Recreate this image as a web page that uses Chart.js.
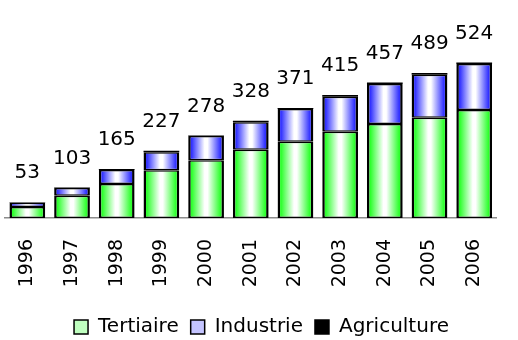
<!DOCTYPE html>
<html>
<head>
<meta charset="utf-8">
<script src="https://cdn.jsdelivr.net/npm/chart.js@4.4.1/dist/chart.umd.min.js"></script>
<style>
  html, body { margin: 0; padding: 0; background: #fff; overflow: hidden; }
  .graphic { position: relative; width: 518px; height: 347px; }
</style>
</head>
<body>
<div class="graphic"><canvas id="emplois"></canvas></div>
<script>
// années et répartition par secteur
const annees = ['1996', '1997', '1998', '1999', '2000', '2001', '2002', '2003', '2004', '2005', '2006'];
const tertiaire = [37, 75, 115, 161, 195, 230, 257, 291, 317, 338, 364];
const industrie = [14, 26, 47, 61, 81, 93, 110, 118, 135, 145, 155];
const agriculture = [2, 2, 3, 5, 2, 5, 4, 6, 5, 6, 5];

// dégradé horizontal : couleur sur les bords, blanc au centre
function barGradient(color) {
  return function (context) {
    const chart = context.chart;
    const area = chart.chartArea;
    if (!area || context.dataIndex === undefined) return color;
    const xScale = chart.scales.x;
    const x = xScale.getPixelForValue(context.dataIndex);
    const half = (area.width / annees.length) * 0.8 / 2;
    const g = chart.ctx.createLinearGradient(x - half, 0, x + half, 0);
    g.addColorStop(0, color);
    g.addColorStop(0.1, color);
    g.addColorStop(0.46, '#ffffff');
    g.addColorStop(0.54, '#ffffff');
    g.addColorStop(0.9, color);
    g.addColorStop(1, color);
    return g;
  };
}

// total au-dessus de chaque colonne
const totalLabels = {
  id: 'totalLabels',
  afterDatasetsDraw(chart) {
    const ctx = chart.ctx;
    const lastMeta = chart.getDatasetMeta(chart.data.datasets.length - 1);
    ctx.save();
    ctx.font = '20px "DejaVu Sans"';
    ctx.fillStyle = '#000';
    ctx.textAlign = 'center';
    ctx.textBaseline = 'middle';
    annees.forEach((a, i) => {
      let total = 0;
      chart.data.datasets.forEach(ds => { total += ds.data[i]; });
      const bar = lastMeta.data[i];
      ctx.fillText(total, bar.x, bar.y - 29);
    });
    ctx.restore();
  }
};

Chart.defaults.font.family = '"DejaVu Sans"';
Chart.defaults.color = '#000';

const legendColors = ['#bfffbf', '#c4c4ff', '#000000'];
const border = { top: 1.5, bottom: 1.5, left: 2.5, right: 2.5 };

new Chart(document.getElementById('emplois'), {
  type: 'bar',
  data: {
    labels: annees,
    datasets: [
      { label: 'Tertiaire', data: tertiaire, backgroundColor: barGradient('#2eff2e'),
        borderColor: '#000', borderWidth: border, borderSkipped: false },
      { label: 'Industrie', data: industrie, backgroundColor: barGradient('#3232ff'),
        borderColor: '#000', borderWidth: border, borderSkipped: false },
      { label: 'Agriculture', data: agriculture, backgroundColor: '#000',
        borderColor: '#000', borderWidth: 0, borderSkipped: false }
    ]
  },
  options: {
    responsive: true,
    maintainAspectRatio: false,
    animation: false,
    layout: { padding: { top: 40, left: 5, right: 0, bottom: 0 } },
    datasets: { bar: { barPercentage: 0.8, categoryPercentage: 1 } },
    scales: {
      x: {
        stacked: true,
        grid: { display: false, drawTicks: false },
        border: { display: true, color: '#8c8c8c', width: 1.5 },
        ticks: { maxRotation: 90, minRotation: 90, padding: 21, font: { size: 19 } },
        afterFit(scale) { scale.height = 87; }
      },
      y: { stacked: true, display: false, min: 0, max: 600 }
    },
    plugins: {
      tooltip: { enabled: false },
      legend: {
        position: 'bottom',
        labels: {
          boxWidth: 14,
          boxHeight: 14,
          padding: 12,
          font: { size: 20 },
          generateLabels(chart) {
            return chart.data.datasets.map((ds, i) => ({
              text: ds.label,
              fillStyle: legendColors[i],
              strokeStyle: '#000',
              lineWidth: 1.5,
              hidden: false,
              datasetIndex: i
            }));
          }
        }
      }
    }
  },
  plugins: [totalLabels]
});
</script>
</body>
</html>
